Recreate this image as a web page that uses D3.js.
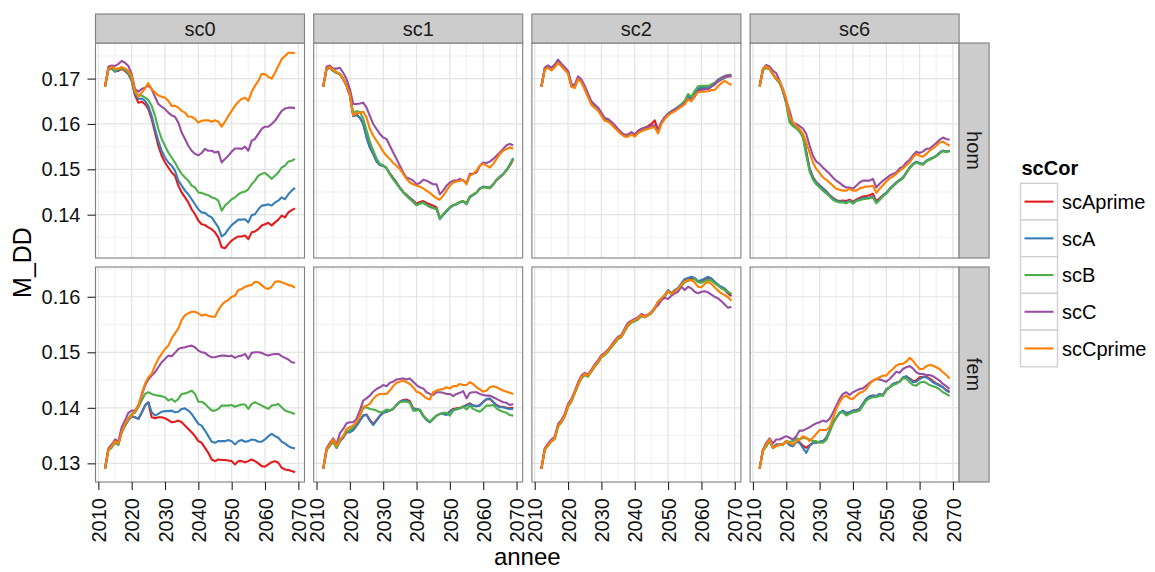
<!DOCTYPE html>
<html lang="en">
<head>
<meta charset="UTF-8">
<title>M_DD par annee</title>
<script src="https://d3js.org/d3.v7.min.js"></script>
<style>
  body { margin: 0; background: #fff; }
  text { font-family: "Liberation Sans", Arial, Helvetica, sans-serif; }
</style>
</head>
<body>
<svg></svg>
<script>
// ---- data -------------------------------------------------------------
const years = [2012, 2013, 2014, 2015, 2016, 2017, 2018, 2019, 2020, 2021,
  2022, 2023, 2024, 2025, 2026, 2027, 2028, 2029, 2030, 2031,
  2032, 2033, 2034, 2035, 2036, 2037, 2038, 2039, 2040, 2041,
  2042, 2043, 2044, 2045, 2046, 2047, 2048, 2049, 2050, 2051,
  2052, 2053, 2054, 2055, 2056, 2057, 2058, 2059, 2060, 2061,
  2062, 2063, 2064, 2065, 2066, 2067, 2068, 2069];
const scenarios = ["sc0", "sc1", "sc2", "sc6"];
const sexes = ["hom", "fem"];
const scCor = ["scAprime", "scA", "scB", "scC", "scCprime"];
const colours = ["#E41A1C", "#377EB8", "#4DAF4A", "#984EA3", "#FF7F00"];
const xTicks = [2010, 2020, 2030, 2040, 2050, 2060, 2070];
const xMinor = [2015, 2025, 2035, 2045, 2055, 2065];
const yTicksHom = [0.14, 0.15, 0.16, 0.17];
const yMinorHom = [0.135, 0.145, 0.155, 0.165, 0.175];
const yTicksFem = [0.13, 0.14, 0.15, 0.16];
const yMinorFem = [0.125, 0.135, 0.145, 0.155, 0.165];

// sc0 / hom
const sc0HomAprime = [.1682,.1721,.1724,.1717,.1717,.1721,.1717,.1710,.1695,.1663,
  .1647,.1649,.1644,.1633,.1611,.1581,.1552,.1530,.1515,.1504,
  .1493,.1486,.1464,.1449,.1438,.1427,.1412,.1401,.1387,.1379,
  .1377,.1372,.1368,.1361,.1350,.1328,.1326,.1335,.1343,.1348,
  .1352,.1352,.1354,.1346,.1361,.1363,.1368,.1376,.1379,.1382,
  .1376,.1383,.1389,.1398,.1394,.1405,.1410,.1414];
const sc0HomA = [.1682,.1719,.1722,.1715,.1719,.1722,.1719,.1712,.1697,.1666,
  .1655,.1656,.1651,.1640,.1618,.1589,.1563,.1541,.1526,.1515,
  .1508,.1497,.1475,.1464,.1453,.1445,.1434,.1423,.1412,.1405,
  .1404,.1398,.1394,.1383,.1372,.1352,.1357,.1368,.1377,.1383,
  .1389,.1389,.1390,.1383,.1399,.1401,.1412,.1420,.1421,.1423,
  .1420,.1427,.1431,.1438,.1434,.1445,.1453,.1459];
const sc0HomB = [.1682,.1721,.1724,.1717,.1721,.1722,.1721,.1713,.1699,.1669,
  .1663,.1663,.1658,.1653,.1640,.1618,.1589,.1567,.1552,.1537,
  .1526,.1515,.1501,.1490,.1482,.1475,.1464,.1460,.1449,.1448,
  .1445,.1443,.1438,.1436,.1431,.1409,.1420,.1427,.1434,.1438,
  .1445,.1449,.1451,.1456,.1467,.1475,.1486,.1490,.1492,.1486,
  .1479,.1486,.1493,.1504,.1508,.1517,.1519,.1523];
const sc0HomC = [.1682,.1726,.1729,.1728,.1732,.1739,.1735,.1728,.1710,.1677,
  .1671,.1677,.1680,.1685,.1677,.1660,.1644,.1638,.1633,.1625,
  .1619,.1616,.1603,.1581,.1567,.1552,.1541,.1534,.1531,.1536,
  .1545,.1541,.1541,.1537,.1539,.1515,.1523,.1530,.1539,.1546,
  .1546,.1545,.1550,.1541,.1563,.1567,.1578,.1589,.1594,.1594,
  .1600,.1607,.1618,.1629,.1634,.1636,.1636,.1635];
const sc0HomCprime = [.1682,.1721,.1726,.1722,.1722,.1726,.1722,.1717,.1706,.1673,
  .1660,.1669,.1678,.1690,.1677,.1669,.1663,.1660,.1658,.1651,
  .1640,.1640,.1636,.1629,.1625,.1616,.1616,.1611,.1603,.1607,
  .1608,.1608,.1605,.1608,.1605,.1594,.1605,.1618,.1629,.1640,
  .1649,.1655,.1658,.1651,.1671,.1684,.1695,.1710,.1710,.1704,
  .1700,.1713,.1728,.1743,.1750,.1757,.1757,.1756];

// sc0 / fem
const sc0FemAprime = [.1290,.1324,.1330,.1337,.1334,.1356,.1368,.1378,.1385,.1383,
  .1380,.1391,.1404,.1410,.1383,.1381,.1383,.1383,.1381,.1378,
  .1374,.1375,.1377,.1374,.1368,.1362,.1356,.1349,.1340,.1337,
  .1328,.1319,.1307,.1304,.1307,.1306,.1306,.1305,.1304,.1298,
  .1304,.1304,.1302,.1304,.1307,.1304,.1300,.1295,.1294,.1298,
  .1302,.1304,.1301,.1292,.1289,.1288,.1286,.1284];
const sc0FemA = [.1290,.1324,.1330,.1337,.1334,.1356,.1368,.1378,.1385,.1383,
  .1380,.1391,.1404,.1410,.1392,.1386,.1389,.1393,.1394,.1394,
  .1395,.1392,.1393,.1398,.1399,.1395,.1389,.1380,.1371,.1368,
  .1359,.1349,.1339,.1337,.1340,.1340,.1340,.1342,.1340,.1334,
  .1340,.1342,.1339,.1340,.1343,.1342,.1339,.1339,.1343,.1349,
  .1353,.1349,.1346,.1339,.1336,.1331,.1328,.1327];
const sc0FemB = [.1290,.1324,.1328,.1339,.1334,.1359,.1368,.1380,.1389,.1391,
  .1401,.1413,.1425,.1428,.1425,.1423,.1422,.1421,.1419,.1413,
  .1416,.1411,.1416,.1425,.1426,.1428,.1431,.1425,.1411,.1411,
  .1407,.1401,.1395,.1395,.1398,.1404,.1404,.1404,.1405,.1402,
  .1404,.1406,.1406,.1398,.1407,.1410,.1407,.1404,.1401,.1398,
  .1404,.1405,.1407,.1401,.1395,.1393,.1391,.1389];
const sc0FemC = [.1290,.1327,.1334,.1343,.1339,.1365,.1377,.1391,.1395,.1395,
  .1404,.1422,.1440,.1451,.1458,.1464,.1473,.1482,.1488,.1494,
  .1493,.1499,.1506,.1508,.1509,.1511,.1512,.1509,.1503,.1500,
  .1499,.1494,.1491,.1491,.1493,.1494,.1494,.1493,.1494,.1490,
  .1493,.1494,.1497,.1488,.1499,.1500,.1500,.1499,.1496,.1494,
  .1496,.1497,.1497,.1493,.1490,.1487,.1482,.1481];
const sc0FemCprime = [.1290,.1324,.1331,.1340,.1336,.1356,.1371,.1381,.1386,.1395,
  .1404,.1425,.1443,.1455,.1461,.1476,.1488,.1497,.1506,.1512,
  .1525,.1534,.1543,.1558,.1567,.1570,.1573,.1573,.1570,.1566,
  .1568,.1566,.1564,.1564,.1576,.1585,.1591,.1594,.1600,.1602,
  .1612,.1614,.1618,.1620,.1621,.1627,.1626,.1621,.1616,.1614,
  .1618,.1627,.1628,.1626,.1624,.1621,.1620,.1616];

// sc1 / hom
const sc1HomAprime = [.1682,.1721,.1724,.1717,.1713,.1710,.1699,.1684,.1663,.1619,
  .1621,.1614,.1601,.1572,.1549,.1535,.1518,.1510,.1508,.1503,
  .1491,.1481,.1471,.1460,.1450,.1444,.1437,.1431,.1424,.1428,
  .1430,.1426,.1423,.1420,.1416,.1393,.1400,.1408,.1416,.1421,
  .1423,.1428,.1430,.1425,.1440,.1444,.1449,.1458,.1461,.1460,
  .1460,.1467,.1476,.1482,.1489,.1498,.1508,.1522];
const sc1HomA = [.1682,.1721,.1724,.1717,.1713,.1710,.1699,.1684,.1663,.1617,
  .1619,.1614,.1600,.1570,.1548,.1534,.1517,.1509,.1508,.1502,
  .1490,.1480,.1470,.1459,.1449,.1443,.1436,.1429,.1421,.1425,
  .1427,.1422,.1418,.1415,.1412,.1390,.1399,.1407,.1415,.1420,
  .1423,.1427,.1429,.1423,.1438,.1443,.1448,.1458,.1462,.1461,
  .1459,.1466,.1477,.1484,.1490,.1499,.1510,.1525];
const sc1HomB = [.1682,.1721,.1724,.1717,.1713,.1710,.1699,.1685,.1664,.1625,
  .1628,.1627,.1612,.1586,.1561,.1542,.1524,.1512,.1509,.1503,
  .1489,.1478,.1468,.1458,.1449,.1441,.1434,.1428,.1421,.1424,
  .1426,.1421,.1417,.1414,.1413,.1392,.1401,.1409,.1416,.1421,
  .1424,.1428,.1430,.1424,.1440,.1445,.1448,.1457,.1460,.1460,
  .1458,.1466,.1477,.1483,.1489,.1498,.1511,.1524];
const sc1HomC = [.1682,.1726,.1729,.1722,.1722,.1724,.1713,.1699,.1677,.1644,
  .1644,.1645,.1647,.1636,.1618,.1600,.1589,.1578,.1570,.1567,
  .1552,.1537,.1523,.1508,.1493,.1482,.1479,.1475,.1467,.1470,
  .1477,.1475,.1471,.1467,.1467,.1445,.1453,.1464,.1471,.1475,
  .1475,.1479,.1475,.1470,.1490,.1490,.1493,.1508,.1515,.1514,
  .1517,.1523,.1530,.1537,.1545,.1553,.1556,.1553];
const sc1HomCprime = [.1682,.1722,.1726,.1719,.1715,.1710,.1699,.1685,.1666,.1619,
  .1624,.1625,.1627,.1614,.1589,.1574,.1563,.1552,.1539,.1530,
  .1523,.1514,.1508,.1501,.1490,.1479,.1471,.1467,.1464,.1462,
  .1458,.1453,.1448,.1442,.1436,.1433,.1442,.1453,.1464,.1471,
  .1473,.1475,.1477,.1467,.1486,.1490,.1497,.1508,.1512,.1508,
  .1504,.1512,.1523,.1534,.1541,.1545,.1548,.1546];

// sc1 / fem
const sc1FemAprime = [.1290,.1324,.1333,.1340,.1328,.1340,.1346,.1356,.1356,.1360,
  .1368,.1377,.1386,.1388,.1378,.1371,.1378,.1386,.1391,.1393,
  .1395,.1398,.1405,.1411,.1414,.1415,.1412,.1399,.1398,.1396,
  .1386,.1379,.1374,.1380,.1386,.1389,.1389,.1388,.1394,.1398,
  .1399,.1400,.1402,.1405,.1408,.1404,.1403,.1405,.1411,.1415,
  .1416,.1410,.1405,.1402,.1402,.1400,.1399,.1400];
const sc1FemA = [.1290,.1324,.1333,.1340,.1328,.1340,.1346,.1356,.1356,.1360,
  .1368,.1377,.1386,.1387,.1377,.1369,.1377,.1385,.1391,.1393,
  .1395,.1398,.1405,.1411,.1413,.1413,.1410,.1398,.1398,.1395,
  .1385,.1378,.1374,.1380,.1386,.1389,.1389,.1387,.1393,.1397,
  .1398,.1399,.1401,.1404,.1407,.1404,.1403,.1404,.1410,.1416,
  .1417,.1411,.1404,.1401,.1401,.1399,.1398,.1398];
const sc1FemB = [.1290,.1324,.1331,.1339,.1328,.1342,.1349,.1357,.1360,.1365,
  .1374,.1386,.1399,.1401,.1398,.1397,.1395,.1392,.1393,.1397,
  .1395,.1399,.1405,.1410,.1411,.1411,.1409,.1395,.1395,.1397,
  .1386,.1380,.1375,.1381,.1386,.1389,.1391,.1391,.1386,.1395,
  .1397,.1399,.1403,.1397,.1404,.1398,.1395,.1393,.1398,.1404,
  .1404,.1405,.1399,.1395,.1393,.1391,.1387,.1386];
const sc1FemC = [.1290,.1327,.1337,.1345,.1334,.1354,.1362,.1372,.1374,.1374,
  .1380,.1395,.1413,.1417,.1422,.1429,.1434,.1437,.1441,.1439,
  .1445,.1447,.1451,.1452,.1453,.1451,.1453,.1447,.1441,.1437,
  .1435,.1428,.1425,.1423,.1428,.1428,.1427,.1425,.1425,.1421,
  .1425,.1427,.1430,.1417,.1427,.1428,.1428,.1425,.1423,.1422,
  .1422,.1419,.1416,.1413,.1410,.1409,.1405,.1407];
const sc1FemCprime = [.1290,.1325,.1334,.1343,.1331,.1343,.1349,.1362,.1365,.1368,
  .1374,.1386,.1401,.1404,.1407,.1416,.1422,.1425,.1425,.1425,
  .1431,.1439,.1445,.1447,.1449,.1446,.1443,.1437,.1429,.1427,
  .1422,.1417,.1415,.1428,.1431,.1433,.1434,.1437,.1435,.1439,
  .1439,.1443,.1441,.1441,.1446,.1443,.1437,.1433,.1429,.1431,
  .1437,.1439,.1437,.1434,.1431,.1429,.1427,.1425];

// sc2 / hom
const sc2HomAprime = [.1682,.1721,.1726,.1720,.1727,.1738,.1729,.1721,.1714,.1684,
  .1681,.1701,.1694,.1679,.1662,.1645,.1639,.1632,.1621,.1610,
  .1608,.1602,.1594,.1587,.1580,.1575,.1575,.1580,.1575,.1584,
  .1589,.1592,.1595,.1600,.1608,.1586,.1603,.1613,.1621,.1626,
  .1630,.1635,.1640,.1646,.1660,.1654,.1665,.1676,.1678,.1679,
  .1680,.1683,.1687,.1694,.1698,.1702,.1705,.1705];
const sc2HomA = [.1682,.1722,.1727,.1721,.1728,.1739,.1730,.1722,.1715,.1685,
  .1682,.1702,.1695,.1680,.1663,.1646,.1640,.1633,.1622,.1611,
  .1609,.1603,.1595,.1587,.1580,.1575,.1575,.1581,.1575,.1583,
  .1587,.1590,.1592,.1595,.1596,.1583,.1603,.1614,.1622,.1627,
  .1631,.1636,.1641,.1647,.1661,.1655,.1666,.1678,.1680,.1680,
  .1680,.1684,.1688,.1695,.1699,.1702,.1706,.1707];
const sc2HomB = [.1682,.1721,.1725,.1719,.1726,.1736,.1728,.1720,.1713,.1684,
  .1681,.1700,.1693,.1678,.1661,.1644,.1638,.1632,.1621,.1610,
  .1608,.1602,.1594,.1586,.1579,.1575,.1575,.1580,.1575,.1582,
  .1586,.1589,.1591,.1594,.1595,.1582,.1602,.1614,.1623,.1628,
  .1633,.1638,.1644,.1651,.1666,.1660,.1673,.1683,.1684,.1684,
  .1684,.1687,.1691,.1698,.1701,.1704,.1708,.1709];
const sc2HomC = [.1682,.1724,.1729,.1724,.1731,.1742,.1733,.1725,.1717,.1688,
  .1686,.1705,.1698,.1684,.1667,.1650,.1643,.1636,.1625,.1613,
  .1611,.1605,.1597,.1589,.1581,.1576,.1577,.1582,.1577,.1585,
  .1589,.1592,.1593,.1596,.1597,.1586,.1604,.1615,.1622,.1628,
  .1632,.1636,.1641,.1645,.1656,.1652,.1660,.1672,.1675,.1676,
  .1677,.1682,.1688,.1697,.1702,.1706,.1707,.1706];
const sc2HomCprime = [.1682,.1720,.1724,.1718,.1725,.1735,.1727,.1719,.1711,.1682,
  .1679,.1699,.1692,.1676,.1659,.1642,.1636,.1629,.1618,.1607,
  .1605,.1599,.1591,.1584,.1577,.1572,.1572,.1577,.1572,.1580,
  .1584,.1587,.1589,.1592,.1593,.1579,.1600,.1611,.1619,.1624,
  .1628,.1633,.1638,.1643,.1655,.1650,.1662,.1670,.1671,.1671,
  .1672,.1675,.1675,.1683,.1690,.1695,.1690,.1686];

// sc2 / fem
const sc2FemAprime = [.1290,.1325,.1333,.1340,.1345,.1368,.1375,.1385,.1403,.1412,
  .1427,.1442,.1454,.1460,.1457,.1466,.1475,.1483,.1492,.1496,
  .1502,.1510,.1517,.1525,.1528,.1539,.1549,.1554,.1557,.1560,
  .1566,.1565,.1567,.1571,.1579,.1590,.1596,.1602,.1611,.1606,
  .1611,.1615,.1622,.1630,.1632,.1634,.1633,.1627,.1629,.1631,
  .1634,.1632,.1626,.1621,.1616,.1612,.1606,.1601];
const sc2FemA = [.1290,.1325,.1333,.1340,.1345,.1368,.1375,.1386,.1404,.1413,
  .1428,.1443,.1455,.1461,.1458,.1467,.1476,.1483,.1493,.1497,
  .1503,.1511,.1518,.1526,.1529,.1540,.1550,.1555,.1558,.1561,
  .1567,.1564,.1567,.1572,.1580,.1591,.1597,.1603,.1612,.1606,
  .1612,.1616,.1624,.1632,.1634,.1636,.1634,.1628,.1630,.1633,
  .1636,.1633,.1627,.1622,.1618,.1615,.1609,.1604];
const sc2FemB = [.1290,.1324,.1332,.1339,.1344,.1366,.1374,.1385,.1402,.1411,
  .1426,.1441,.1453,.1459,.1456,.1465,.1474,.1481,.1491,.1495,
  .1501,.1509,.1516,.1524,.1527,.1538,.1548,.1553,.1556,.1559,
  .1565,.1563,.1566,.1570,.1578,.1589,.1595,.1600,.1610,.1605,
  .1610,.1614,.1620,.1626,.1629,.1630,.1632,.1626,.1625,.1628,
  .1630,.1629,.1624,.1620,.1615,.1613,.1608,.1606];
const sc2FemC = [.1290,.1327,.1336,.1343,.1348,.1371,.1378,.1389,.1407,.1416,
  .1430,.1446,.1458,.1463,.1460,.1469,.1478,.1486,.1495,.1499,
  .1505,.1513,.1521,.1528,.1531,.1543,.1553,.1557,.1560,.1563,
  .1569,.1566,.1568,.1573,.1580,.1585,.1594,.1598,.1596,.1602,
  .1606,.1609,.1618,.1612,.1618,.1615,.1609,.1606,.1609,.1610,
  .1608,.1604,.1600,.1597,.1592,.1586,.1580,.1582];
const sc2FemCprime = [.1290,.1325,.1333,.1340,.1345,.1368,.1375,.1386,.1404,.1413,
  .1428,.1443,.1455,.1461,.1458,.1467,.1476,.1483,.1493,.1497,
  .1503,.1511,.1518,.1526,.1529,.1540,.1550,.1555,.1558,.1561,
  .1567,.1564,.1567,.1572,.1580,.1591,.1597,.1603,.1610,.1605,
  .1610,.1614,.1622,.1628,.1630,.1630,.1626,.1618,.1617,.1623,
  .1627,.1623,.1617,.1611,.1606,.1603,.1599,.1593];

// sc6 / hom
const sc6HomAprime = [.1683,.1719,.1724,.1721,.1710,.1699,.1691,.1673,.1648,.1609,
  .1598,.1593,.1586,.1575,.1539,.1502,.1483,.1472,.1465,.1458,
  .1452,.1443,.1437,.1432,.1430,.1431,.1430,.1433,.1428,.1433,
  .1437,.1440,.1441,.1443,.1446,.1430,.1436,.1443,.1448,.1457,
  .1464,.1471,.1476,.1481,.1492,.1503,.1511,.1516,.1513,.1511,
  .1518,.1522,.1525,.1529,.1536,.1541,.1539,.1541];
const sc6HomA = [.1683,.1719,.1724,.1721,.1710,.1699,.1691,.1673,.1647,.1607,
  .1597,.1592,.1585,.1574,.1537,.1501,.1482,.1471,.1464,.1457,
  .1451,.1442,.1436,.1431,.1429,.1429,.1427,.1431,.1426,.1431,
  .1434,.1436,.1437,.1438,.1440,.1427,.1434,.1442,.1448,.1457,
  .1464,.1471,.1477,.1482,.1493,.1504,.1512,.1517,.1514,.1512,
  .1519,.1523,.1526,.1530,.1537,.1541,.1539,.1541];
const sc6HomB = [.1683,.1719,.1724,.1721,.1710,.1699,.1691,.1673,.1645,.1603,
  .1595,.1590,.1583,.1570,.1530,.1495,.1477,.1467,.1460,.1453,
  .1447,.1440,.1433,.1429,.1427,.1427,.1425,.1430,.1424,.1430,
  .1432,.1434,.1435,.1436,.1438,.1425,.1432,.1440,.1446,.1455,
  .1462,.1469,.1475,.1480,.1492,.1503,.1510,.1515,.1512,.1510,
  .1518,.1521,.1525,.1529,.1535,.1540,.1538,.1540];
const sc6HomC = [.1683,.1722,.1730,.1727,.1717,.1712,.1695,.1677,.1651,.1629,
  .1602,.1600,.1595,.1590,.1578,.1552,.1530,.1517,.1512,.1504,
  .1497,.1490,.1482,.1475,.1470,.1464,.1460,.1460,.1457,.1464,
  .1471,.1475,.1475,.1475,.1479,.1460,.1468,.1475,.1480,.1486,
  .1490,.1493,.1502,.1506,.1515,.1521,.1531,.1539,.1536,.1539,
  .1545,.1546,.1552,.1558,.1565,.1570,.1567,.1565];
const sc6HomCprime = [.1683,.1721,.1727,.1722,.1710,.1700,.1695,.1677,.1655,.1618,
  .1603,.1596,.1589,.1578,.1559,.1537,.1515,.1501,.1492,.1482,
  .1477,.1471,.1464,.1457,.1455,.1453,.1453,.1457,.1453,.1453,
  .1458,.1460,.1462,.1462,.1464,.1448,.1457,.1465,.1473,.1480,
  .1484,.1490,.1497,.1502,.1509,.1515,.1526,.1534,.1530,.1528,
  .1534,.1541,.1546,.1552,.1559,.1561,.1556,.1552];

// sc6 / fem
const sc6FemAprime = [.1290,.1324,.1331,.1343,.1328,.1334,.1334,.1334,.1340,.1333,
  .1331,.1339,.1338,.1332,.1328,.1333,.1337,.1337,.1339,.1340,
  .1346,.1359,.1373,.1382,.1391,.1394,.1390,.1392,.1395,.1396,
  .1398,.1407,.1416,.1420,.1422,.1421,.1425,.1423,.1433,.1437,
  .1443,.1445,.1447,.1454,.1456,.1453,.1448,.1449,.1455,.1456,
  .1456,.1453,.1448,.1444,.1441,.1437,.1432,.1429];
const sc6FemA = [.1290,.1324,.1331,.1343,.1328,.1334,.1334,.1334,.1340,.1333,
  .1331,.1339,.1337,.1328,.1319,.1331,.1337,.1337,.1339,.1340,
  .1346,.1359,.1374,.1383,.1391,.1395,.1391,.1392,.1395,.1395,
  .1398,.1407,.1416,.1421,.1422,.1421,.1425,.1422,.1433,.1437,
  .1443,.1445,.1447,.1455,.1457,.1452,.1446,.1447,.1452,.1455,
  .1455,.1451,.1446,.1443,.1440,.1437,.1431,.1428];
const sc6FemB = [.1290,.1322,.1331,.1340,.1327,.1331,.1333,.1334,.1340,.1339,
  .1340,.1345,.1343,.1346,.1345,.1343,.1340,.1340,.1337,.1337,
  .1342,.1356,.1371,.1383,.1391,.1392,.1386,.1389,.1392,.1393,
  .1395,.1404,.1413,.1417,.1419,.1419,.1422,.1422,.1431,.1437,
  .1441,.1443,.1447,.1453,.1453,.1446,.1441,.1440,.1445,.1447,
  .1445,.1441,.1439,.1437,.1433,.1428,.1425,.1421];
const sc6FemC = [.1290,.1325,.1337,.1345,.1336,.1343,.1343,.1346,.1349,.1346,
  .1343,.1349,.1359,.1359,.1362,.1365,.1369,.1372,.1374,.1377,
  .1375,.1380,.1391,.1404,.1416,.1425,.1428,.1423,.1428,.1431,
  .1434,.1435,.1440,.1445,.1449,.1452,.1451,.1449,.1447,.1452,
  .1458,.1465,.1463,.1470,.1473,.1475,.1471,.1464,.1461,.1461,
  .1459,.1459,.1457,.1453,.1449,.1443,.1439,.1434];
const sc6FemCprime = [.1290,.1324,.1334,.1343,.1328,.1331,.1334,.1334,.1340,.1337,
  .1334,.1340,.1343,.1349,.1346,.1340,.1346,.1353,.1360,.1360,
  .1360,.1365,.1381,.1398,.1410,.1419,.1422,.1417,.1416,.1422,
  .1427,.1429,.1434,.1443,.1449,.1452,.1455,.1458,.1458,.1465,
  .1470,.1476,.1479,.1479,.1483,.1490,.1485,.1477,.1470,.1470,
  .1475,.1477,.1476,.1473,.1470,.1464,.1459,.1453];

// series per facet, in scCor order
const series = {
  sc0: { hom: [sc0HomAprime, sc0HomA, sc0HomB, sc0HomC, sc0HomCprime],
         fem: [sc0FemAprime, sc0FemA, sc0FemB, sc0FemC, sc0FemCprime] },
  sc1: { hom: [sc1HomAprime, sc1HomA, sc1HomB, sc1HomC, sc1HomCprime],
         fem: [sc1FemAprime, sc1FemA, sc1FemB, sc1FemC, sc1FemCprime] },
  sc2: { hom: [sc2HomAprime, sc2HomA, sc2HomB, sc2HomC, sc2HomCprime],
         fem: [sc2FemAprime, sc2FemA, sc2FemB, sc2FemC, sc2FemCprime] },
  sc6: { hom: [sc6HomAprime, sc6HomA, sc6HomB, sc6HomC, sc6HomCprime],
         fem: [sc6FemAprime, sc6FemA, sc6FemB, sc6FemC, sc6FemCprime] }
};
const yTicks = { hom: yTicksHom, fem: yTicksFem };
const yMinor = { hom: yMinorHom, fem: yMinorFem };

// ---- layout -----------------------------------------------------------
const width = 1155, height = 572;
const panelLeft = 95.5, panelW = 209, colGap = 9.2;
const stripTop = 14, stripH = 29, panelH = 215, rowGap = 9;
const colX = j => panelLeft + j * (panelW + colGap);
const rowY = i => stripTop + stripH + i * (panelH + rowGap);
const panelsRight = colX(scenarios.length - 1) + panelW;
const greyLine = "#7f7f7f";

const svg = d3.select("svg")
    .attr("width", width)
    .attr("height", height);
svg.append("rect").attr("width", width).attr("height", height).attr("fill", "#fff");

const colour = d3.scaleOrdinal().domain(scCor).range(colours);

// ggplot style 5% expansion on each side
const xPad = (years[years.length - 1] - years[0]) * 0.05;
const x = d3.scaleLinear()
    .domain([years[0] - xPad, years[years.length - 1] + xPad])
    .range([0, panelW]);

const yScale = {};
sexes.forEach(sex => {
    const all = scenarios.flatMap(sc => series[sc][sex].flat());
    const [lo, hi] = d3.extent(all);
    const pad = (hi - lo) * 0.05;
    yScale[sex] = d3.scaleLinear().domain([lo - pad, hi + pad]).range([panelH, 0]);
});

sexes.forEach((sex, i) => {
    const y = yScale[sex];
    const [d0, d1] = y.domain();
    const minorY = yMinor[sex].filter(v => v > d0 && v < d1);

    scenarios.forEach((sc, j) => {
        const g = svg.append("g")
            .attr("transform", "translate(" + colX(j) + "," + rowY(i) + ")");

        g.append("rect").attr("width", panelW).attr("height", panelH).attr("fill", "#fff");

        // minor grid
        g.selectAll(".vmin").data(xMinor).join("line")
            .attr("x1", d => x(d)).attr("x2", d => x(d))
            .attr("y1", 0).attr("y2", panelH)
            .attr("stroke", "#f4f4f4").attr("stroke-width", 1.4);
        g.selectAll(".hmin").data(minorY).join("line")
            .attr("x1", 0).attr("x2", panelW)
            .attr("y1", d => y(d)).attr("y2", d => y(d))
            .attr("stroke", "#f4f4f4").attr("stroke-width", 1.4);
        // major grid
        g.selectAll(".vmaj").data(xTicks).join("line")
            .attr("x1", d => x(d)).attr("x2", d => x(d))
            .attr("y1", 0).attr("y2", panelH)
            .attr("stroke", "#e3e3e3").attr("stroke-width", 1.2);
        g.selectAll(".hmaj").data(yTicks[sex]).join("line")
            .attr("x1", 0).attr("x2", panelW)
            .attr("y1", d => y(d)).attr("y2", d => y(d))
            .attr("stroke", "#e3e3e3").attr("stroke-width", 1.2);

        const line = d3.line()
            .x((d, k) => x(years[k]))
            .y(d => y(d));

        g.selectAll(".series").data(series[sc][sex]).join("path")
            .attr("d", line)
            .attr("fill", "none")
            .attr("stroke", (d, k) => colour(scCor[k]))
            .attr("stroke-width", 2.1)
            .attr("stroke-linejoin", "round");

        g.append("rect").attr("width", panelW).attr("height", panelH)
            .attr("fill", "none").attr("stroke", greyLine).attr("stroke-width", 1.1);

        // y axis on first column
        if (j === 0) {
            const ax = g.append("g")
                .call(d3.axisLeft(y).tickValues(yTicks[sex]).tickFormat(d3.format(".2f"))
                    .tickSize(8).tickPadding(7));
            ax.select(".domain").remove();
            ax.selectAll("line").attr("stroke", "#222").attr("stroke-width", 1.1);
            ax.selectAll("text").attr("font-size", 20).attr("fill", "#111")
                .style("font-family", "'Liberation Sans', Arial, sans-serif");
        }
        // x axis on bottom row
        if (i === sexes.length - 1) {
            const ax = g.append("g")
                .attr("transform", "translate(0," + panelH + ")")
                .call(d3.axisBottom(x).tickValues(xTicks).tickFormat(d3.format("d")).tickSize(8));
            ax.select(".domain").remove();
            ax.selectAll("line").attr("stroke", "#222").attr("stroke-width", 1.1);
            ax.selectAll("text")
                .attr("transform", "rotate(-90)")
                .attr("x", -16).attr("y", 0).attr("dy", "0.36em")
                .style("text-anchor", "end")
                .attr("font-size", 20).attr("fill", "#111")
                .style("font-family", "'Liberation Sans', Arial, sans-serif");
        }
    });

    // right strip
    const sy = rowY(i);
    svg.append("rect")
        .attr("x", panelsRight).attr("y", sy)
        .attr("width", stripH + 1).attr("height", panelH)
        .attr("fill", "#cccccc").attr("stroke", greyLine).attr("stroke-width", 1.1);
    svg.append("text")
        .attr("transform", "translate(" + (panelsRight + (stripH + 1) / 2) + "," + (sy + panelH / 2) + ") rotate(90)")
        .attr("text-anchor", "middle").attr("dy", "0.36em")
        .attr("font-size", 20).attr("fill", "#1a1a1a")
        .text(sex);
});

// top strips
scenarios.forEach((sc, j) => {
    svg.append("rect")
        .attr("x", colX(j)).attr("y", stripTop)
        .attr("width", panelW).attr("height", stripH)
        .attr("fill", "#cccccc").attr("stroke", greyLine).attr("stroke-width", 1.1);
    svg.append("text")
        .attr("x", colX(j) + panelW / 2).attr("y", stripTop + stripH / 2)
        .attr("dy", "0.36em").attr("text-anchor", "middle")
        .attr("font-size", 20).attr("fill", "#1a1a1a")
        .text(sc);
});

// axis titles
svg.append("text")
    .attr("x", (panelLeft + panelsRight) / 2).attr("y", 565)
    .attr("text-anchor", "middle").attr("font-size", 24).attr("fill", "#000")
    .text("annee");
svg.append("text")
    .attr("transform", "translate(31," + (rowY(0) + (rowY(1) + panelH - rowY(0)) / 2) + ") rotate(-90)")
    .attr("text-anchor", "middle").attr("font-size", 25).attr("fill", "#000")
    .text("M_DD");

// legend
const legX = 1020.5, legY = 183.3, keyW = 37, keyH = 36.7;
svg.append("text")
    .attr("x", legX + 1).attr("y", 175)
    .attr("font-size", 20).attr("font-weight", "bold").attr("fill", "#000")
    .text("scCor");
const keys = svg.selectAll(".key").data(scCor).join("g")
    .attr("transform", (d, k) => "translate(" + legX + "," + (legY + k * keyH) + ")");
keys.append("rect")
    .attr("width", keyW).attr("height", keyH)
    .attr("fill", "#fff").attr("stroke", "#d0d0d0").attr("stroke-width", 1.4);
keys.append("line")
    .attr("x1", 4).attr("x2", keyW - 4)
    .attr("y1", keyH / 2).attr("y2", keyH / 2)
    .attr("stroke", d => colour(d)).attr("stroke-width", 2.1);
keys.append("text")
    .attr("x", keyW + 4.5).attr("y", keyH / 2).attr("dy", "0.36em")
    .attr("font-size", 20).attr("fill", "#000")
    .text(d => d);
</script>
</body>
</html>
